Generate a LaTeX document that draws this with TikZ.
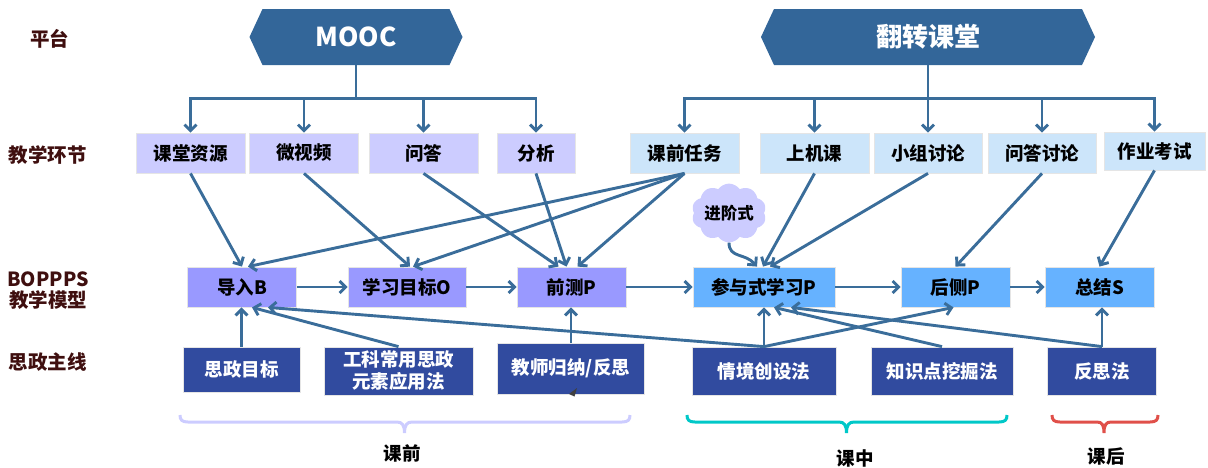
\documentclass[tikz,border=0pt]{standalone}
\usepackage{fontspec}
\setmainfont{Noto Sans CJK SC}
\usetikzlibrary{arrows.meta,shapes.symbols}
\definecolor{arrcol}{HTML}{3A6D9A}
\definecolor{hexcol}{HTML}{336699}
\definecolor{lav}{HTML}{CCCCFF}
\definecolor{lblue}{HTML}{CCE5FA}
\definecolor{peri}{HTML}{9999FF}
\definecolor{skyb}{HTML}{66B2FF}
\definecolor{dblue}{HTML}{314B9F}
\definecolor{lblcol}{HTML}{3F0F0F}
\definecolor{tealb}{HTML}{00C8C8}
\definecolor{redb}{HTML}{E0504A}
\tikzset{
 lbl/.style={font=\fontsize{19.5}{23}\selectfont\bfseries, text=lblcol, align=center},
 box/.style={rectangle, inner sep=0pt, font=\fontsize{18.5}{22}\selectfont\bfseries, align=center, draw=black!10, line width=0.8pt},
 topl/.style={box, fill=lav, minimum height=40pt},
 topr/.style={box, fill=lblue, minimum height=40pt},
 midl/.style={box, fill=peri, minimum height=40pt},
 midr/.style={box, fill=skyb, minimum height=40pt},
 bot/.style={box, fill=dblue, text=white, minimum height=48pt},
 arr/.style={draw=arrcol, line width=2.9pt, -{Straight Barb[length=6pt,width=12pt]}},
 brace/.style={line width=3pt},
 tlabel/.style={font=\fontsize{18.5}{22}\selectfont\bfseries},
 hexa/.style={rectangle, inner sep=0pt, minimum height=56pt, fill=white, text=white,
   font=\fontsize{26}{30}\selectfont\bfseries,
   path picture={\fill[hexcol] (path picture bounding box.west)
     -- ([xshift=13pt]path picture bounding box.north west)
     -- ([xshift=-13pt]path picture bounding box.north east)
     -- (path picture bounding box.east)
     -- ([xshift=-13pt]path picture bounding box.south east)
     -- ([xshift=13pt]path picture bounding box.south west) -- cycle;}},
}
\begin{document}
\begin{tikzpicture}[x=1pt,y=-1pt]
\useasboundingbox (0,0) rectangle (1208,467);
% row labels
\node[lbl] (lpt) at (50,39) {平台};
\node[lbl] (ljx) at (48,155) {教学环节};
\node[lbl] (lbo) at (48,291) {BOPPPS\\[-2pt]教学模型};
\node[lbl] (lsz) at (48,362) {思政主线};
% platforms
\node[hexa, minimum width=213pt] (mooc) at (356,37) {MOOC};
\node[hexa, minimum width=334pt] (fzkt) at (928,37) {翻转课堂};
% teaching links
\node[topl, minimum width=109pt] (zyt) at (190.5,153) {课堂资源};
\node[topl, minimum width=109pt] (wsp) at (304,153) {微视频};
\node[topl, minimum width=109pt] (wd) at (423.5,153) {问答};
\node[topl, minimum width=78pt] (fx) at (536,153) {分析};
\node[topr, minimum width=109pt] (kqrw) at (684.5,153) {课前任务};
\node[topr, minimum width=109pt] (sjk) at (814.5,153) {上机课};
\node[topr, minimum width=108pt] (xztl) at (928,153) {小组讨论};
\node[topr, minimum width=108pt] (wdtl) at (1042,153) {问答讨论};
\node[topr, minimum width=101pt, minimum height=38pt] (zyks) at (1154.5,151) {作业考试};
% BOPPPS
\node[midl, minimum width=109pt] (drb) at (242,287) {导入B};
\node[midl, minimum width=118pt] (xxmb) at (407,287) {学习目标O};
\node[midl, minimum width=109pt] (qcp) at (571.5,287) {前测P};
\node[midr, minimum width=142pt] (cyp) at (764,287) {参与式学习P};
\node[midr, minimum width=109pt] (hcp) at (955.5,287) {后侧P};
\node[midr, minimum width=109pt] (zjs) at (1099.5,287) {总结S};
% ideology line
\node[bot, minimum width=117pt, minimum height=45pt] (szmb) at (241.5,369.5) {思政目标};
\node[bot, minimum width=149pt] (gkcy) at (398.5,371) {工科常用思政\\元素应用法};
\node[bot, minimum width=147pt, minimum height=51pt] (jsgn) at (571,368.5) {教师归纳/反思};
\node[bot, minimum width=144pt] (qjcs) at (764,371) {情境创设法};
\node[bot, minimum width=142pt] (zsd) at (942,371) {知识点挖掘法};
\node[bot, minimum width=109pt] (fsf) at (1102,371) {反思法};
% cloud
\node[cloud, cloud puffs=10, cloud puff arc=110, aspect=1.4, fill=lav, inner sep=0pt,
  minimum width=74pt, minimum height=52pt,
  font=\fontsize{16.5}{20}\selectfont\bfseries] (jjs) at (729,213) {进阶式};
% tree connectors
\foreach \c in {zyt,wsp,wd,fx} \draw[arr] (mooc.south) -- ++(0,33) -| (\c.north);
\foreach \c in {kqrw,sjk,xztl,wdtl,zyks} \draw[arr] (fzkt.south) -- ++(0,33) -| (\c.north);
% teaching links -> BOPPPS
\draw[arr] (zyt.south) -- (drb.north);
\draw[arr] (wsp.south) -- ([xshift=3pt]xxmb.north);
\draw[arr] (wd.south) -- ([xshift=-13pt]qcp.north);
\draw[arr] (fx.south) -- ([xshift=-5pt]qcp.north);
\draw[arr] (kqrw.south) -- ([xshift=6pt]drb.north);
\draw[arr] (kqrw.south) -- ([xshift=6pt]xxmb.north);
\draw[arr] (kqrw.south) -- ([xshift=6pt]qcp.north);
\draw[arr] (sjk.south) -- ([xshift=-1pt]cyp.north);
\draw[arr] (xztl.south) -- ([xshift=6pt]cyp.north);
\draw[arr] (jjs.south) .. controls +(0,16) and +(-12,-14) .. ([xshift=-7pt]cyp.north);
\draw[arr] (wdtl.south) -- (hcp.north);
\draw[arr] (zyks.south) -- (zjs.north);
% BOPPPS chain
\draw[arr] (drb.east) -- (xxmb.west);
\draw[arr] (xxmb.east) -- (qcp.west);
\draw[arr] (qcp.east) -- (cyp.west);
\draw[arr] (cyp.east) -- (hcp.west);
\draw[arr] (hcp.east) -- (zjs.west);
% ideology -> BOPPPS
\draw[arr] (szmb.north) -- (szmb.north |- drb.south);
\draw[arr] (gkcy.north) -- ([xshift=10pt]drb.south);
\draw[arr] (qjcs.north) -- ([xshift=26pt]drb.south);
\draw[arr] (jsgn.north) -- (jsgn.north |- qcp.south);
\draw[arr] (qjcs.north) -- (cyp.south);
\draw[arr] (qjcs.north) -- ([xshift=-2pt]hcp.south);
\draw[arr] (zsd.north) -- ([xshift=10pt]cyp.south);
\draw[arr] (fsf.north) -- ([xshift=27pt]cyp.south);
\draw[arr] (fsf.north) -- (fsf.north |- zjs.south);
% small mark
\fill[black!75] (569,394) -- (577,388) -- (574.5,396.5) -- cycle;
% braces
\draw[brace, lav] (180,415) .. controls (180,420) and (182,422) .. (188,422) -- (397,422)
  .. controls (402,422) and (404.5,425) .. (404.5,433) .. controls (404.5,425) and (407,422) .. (412,422)
  -- (622,422) .. controls (628,422) and (630,420) .. (630,415);
\draw[brace, tealb] (687,415) .. controls (687,420) and (689,422) .. (695,422) -- (839,422)
  .. controls (844,422) and (846.5,425) .. (846.5,433) .. controls (846.5,425) and (849,422) .. (854,422)
  -- (999,422) .. controls (1005,422) and (1007,420) .. (1007,415);
\draw[brace, redb] (1052,415) .. controls (1052,420) and (1054,422) .. (1060,422) -- (1097,422)
  .. controls (1102,422) and (1104,425) .. (1104,433) .. controls (1104,425) and (1106,422) .. (1111,422)
  -- (1150,422) .. controls (1156,422) and (1158,420) .. (1158,415);
\node[tlabel] (kq) at (402,453) {课前};
\node[tlabel] (kz) at (855,458) {课中};
\node[tlabel] (kh) at (1106,456) {课后};
\end{tikzpicture}
\end{document}
